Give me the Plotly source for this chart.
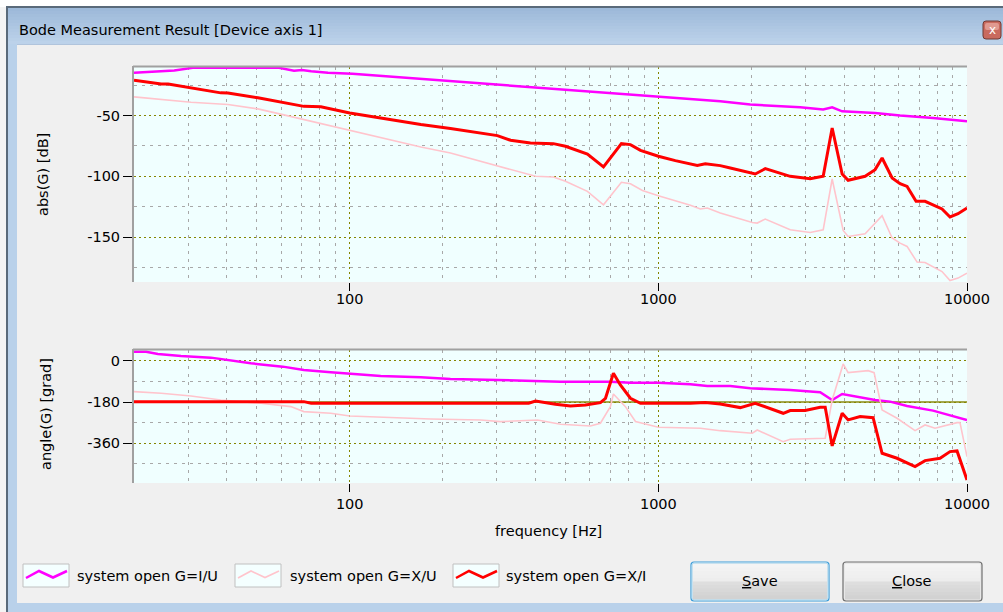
import plotly.graph_objects as go

W, H = 1003, 612

# ---------------- data ----------------
# Magnitude [dB]
IU_MAG_F = [20, 27, 31, 45, 59, 66, 70, 75, 85, 102, 183, 358, 753, 1000, 1587, 1985, 2880, 3420, 3657, 3940, 5037, 6070, 7762, 10000]
IU_MAG_DB = [-14.8, -12.9, -10.7, -10.6, -10.7, -13.0, -12.5, -13.5, -14.8, -15.6, -20.3, -25.9, -32.1, -34.0, -38.2, -40.9, -43.2, -45.0, -43.2, -46.5, -47.8, -50.0, -51.9, -54.7]

XU_MAG_F = [20, 24.5, 30.6, 40.3, 50.4, 60.7, 71, 91.5, 100, 126, 170, 212, 301, 400, 457, 500, 589, 664, 759, 812, 888, 1000, 1270, 1368, 1441, 1587, 2015, 2091, 2220, 2674, 3104, 3420, 3657, 3970, 4120, 4676, 5308, 5720, 6070, 6395, 6890, 7313, 8300, 8810, 9353, 10000]
XU_MAG_DB = [-34.6, -36.8, -39.0, -40.9, -44.5, -49.2, -53.3, -59.6, -62.4, -68.4, -75.8, -80.8, -91.2, -100.0, -100.5, -104.1, -112.4, -123.4, -104.9, -106.1, -111.6, -116.0, -123.9, -126.9, -126.1, -130.2, -138.0, -138.5, -135.2, -144.0, -146.2, -144.0, -102.2, -144.6, -149.5, -147.3, -132.4, -150.8, -155.0, -157.7, -170.6, -170.9, -178.4, -185.8, -183.8, -179.7]

XI_MAG_F = [20, 24.5, 25.8, 30.6, 38.2, 40.3, 50.4, 71, 80.6, 100, 170, 212, 246, 301, 332, 385, 457, 500, 589, 664, 759, 812, 875, 1000, 1135, 1337, 1419, 1587, 1710, 2060, 2220, 2674, 3104, 3420, 3657, 3940, 4120, 4676, 5037, 5308, 5720, 6070, 6395, 6839, 7313, 8300, 8810, 9353, 10000]
XI_MAG_DB = [-20.9, -23.9, -24.0, -27.2, -31.3, -31.5, -35.4, -42.4, -42.8, -47.8, -57.4, -60.7, -62.9, -66.5, -70.3, -72.5, -73.1, -75.3, -81.6, -92.3, -73.1, -73.9, -78.6, -83.5, -87.1, -91.0, -89.6, -91.2, -93.1, -98.1, -93.7, -100.0, -101.9, -100.0, -60.2, -98.1, -103.3, -100.0, -94.5, -84.9, -101.4, -106.1, -108.3, -120.6, -120.6, -126.9, -133.5, -130.8, -126.1]

# Phase [grad]
IU_PH_F = [20, 21.9, 23.9, 28.4, 35.5, 41.2, 47.8, 60.7, 71, 86.8, 100, 126, 170, 212, 301, 482, 699, 812, 1000, 1270, 1441, 1710, 1985, 2674, 3344, 3657, 3940, 5037, 5636, 6395, 7762, 8810, 10000]
IU_PH_DEG = [40.7, 40.7, 30.6, 21.9, 14.6, 1.5, -10.2, -24.8, -39.4, -49.6, -56.9, -65.6, -71.4, -78.7, -83.1, -90.4, -90.4, -94.8, -94.8, -102.0, -109.4, -110.0, -119.6, -126.9, -137.0, -170.6, -144.4, -170.6, -177.9, -196.9, -217.3, -236.2, -258.0]

XU_PH_F = [20, 24.5, 30.6, 38.2, 51.5, 64.4, 71, 86.8, 100, 117, 146, 183, 265.5, 308, 406, 482, 602, 649, 699, 715, 782, 843, 1000, 1368, 1587, 2015, 2091, 2538, 2674, 3344, 3472, 3657, 3970, 4120, 4782, 5000, 5308, 5935, 6787, 7313, 7877, 9283, 9490, 10000]
XU_PH_DEG = [-134, -141, -153, -170.6, -185, -199.7, -221.6, -228.9, -240.6, -243.5, -250.8, -253.7, -258, -265.4, -258, -277, -284.3, -272.5, -199.7, -144.4, -200, -265, -290, -294.5, -305, -316, -302, -353, -342.5, -338, -338, -170.6, -13, -51, -42.4, -51, -214, -250.8, -305, -280, -294.5, -270, -270, -418.6]

XI_PH_F = [20, 71, 75, 380, 400, 464, 519, 580, 649, 674, 715, 753, 812, 875, 1270, 1419, 1587, 1710, 1842, 2060, 2538, 2674, 2990, 3344, 3472, 3657, 3940, 4120, 4505, 4963, 5308, 5935, 6787, 7313, 8177, 8810, 9283, 10000]
XI_PH_DEG = [-178, -178, -185, -185, -175, -189.5, -196.9, -192.5, -182.4, -163.3, -53.9, -105, -163, -185, -185, -182, -188, -195.5, -204, -185, -228.9, -217, -217, -202.7, -202.7, -371.8, -228.9, -258, -243.5, -248, -404, -425.8, -462, -436, -425.8, -396.7, -393.7, -520.6]

SERIES_NAMES = ["system open G=I/U", "system open G=X/U", "system open G=X/I"]
SERIES_COLORS = ["#FF00FF", "#FFC4CC", "#FF0000"]
SERIES_WIDTHS = [2.5, 1.6, 3.0]

X_TICKS = [100, 1000, 10000]
X_MINOR = [30, 40, 50, 60, 70, 80, 90, 200, 300, 400, 500, 600, 700, 800, 900,
           2000, 3000, 4000, 5000, 6000, 7000, 8000, 9000]
MAG_TICKS = [-50, -100, -150]
MAG_MINOR = [-25, -75, -125, -175]
PH_TICKS = [0, -180, -360]
PH_MINOR = [-90, -270, -450]

FONT = "DejaVu Sans"
FS = 14.5
OLIVE = "#858500"
GRAYGRID = "#A8A8A8"


def px(x):
    return x / W


def py(y):
    return 1 - y / H


fig = go.Figure()

mag_data = [(IU_MAG_F, IU_MAG_DB), (XU_MAG_F, XU_MAG_DB), (XI_MAG_F, XI_MAG_DB)]
ph_data = [(IU_PH_F, IU_PH_DEG), (XU_PH_F, XU_PH_DEG), (XI_PH_F, XI_PH_DEG)]

for i, (f, v) in enumerate(mag_data):
    fig.add_trace(go.Scatter(x=f, y=v, mode="lines", name=SERIES_NAMES[i],
                             line=dict(color=SERIES_COLORS[i], width=SERIES_WIDTHS[i]),
                             xaxis="x", yaxis="y", showlegend=False, hoverinfo="skip"))
for i, (f, v) in enumerate(ph_data):
    fig.add_trace(go.Scatter(x=f, y=v, mode="lines", name=SERIES_NAMES[i],
                             line=dict(color=SERIES_COLORS[i], width=SERIES_WIDTHS[i]),
                             xaxis="x2", yaxis="y2", showlegend=False, hoverinfo="skip"))

xdom = [px(134), px(967)]
common_x = dict(type="log", range=[1.301, 4.0], domain=xdom, automargin=False,
                tickvals=X_TICKS, ticktext=[str(t) for t in X_TICKS],
                ticks="outside", ticklen=8, tickcolor="#000", tickwidth=1,
                showgrid=True, gridcolor=OLIVE, griddash="2px,3px", gridwidth=1.2,
                minor=dict(tickvals=X_MINOR, showgrid=True, gridcolor=GRAYGRID,
                           griddash="3px,5px", gridwidth=1, ticks=""),
                showline=False, zeroline=False,
                tickfont=dict(family=FONT, size=FS, color="#000"), fixedrange=True)
common_y = dict(ticks="outside", ticklen=10, tickcolor="#000", tickwidth=1, automargin=False,
                showgrid=True, gridcolor=OLIVE, griddash="2px,3px", gridwidth=1.2,
                showline=False, zeroline=False,
                tickfont=dict(family=FONT, size=FS, color="#000"), fixedrange=True)

fig.update_layout(
    width=W, height=H, margin=dict(l=0, r=0, t=0, b=0, autoexpand=False), autosize=False,
    paper_bgcolor="#F0F0F0", plot_bgcolor="#F0FFFF",
    font=dict(family=FONT, size=FS, color="#000"),
    xaxis=dict(**common_x, anchor="y", ticklabelstandoff=-4),
    yaxis=dict(**common_y, anchor="x", domain=[py(282), py(67)], range=[-187, -10],
               tickvals=MAG_TICKS, ticktext=[str(t) for t in MAG_TICKS],
               minor=dict(tickvals=MAG_MINOR, showgrid=True, gridcolor=GRAYGRID,
                          griddash="3px,5px", gridwidth=1, ticks="")),
    xaxis2=dict(**common_x, anchor="y2"),
    yaxis2=dict(**common_y, anchor="x2", domain=[py(483), py(350)], range=[-534, 48],
                tickvals=PH_TICKS, ticktext=[str(t) for t in PH_TICKS],
                minor=dict(tickvals=PH_MINOR, showgrid=True, gridcolor=GRAYGRID,
                           griddash="3px,5px", gridwidth=1, ticks="")),
    showlegend=False,
)

shapes = []

# solid reference line at -180 in phase plot
shapes.append(dict(type="line", xref="x2 domain", yref="y2", x0=0, x1=1, y0=-180, y1=-180,
                   line=dict(color="#8A8A10", width=1.5), layer="below"))

# sunken frame (top and left) of both plots
for top, bot in [(67, 282), (350, 483)]:
    shapes.append(dict(type="line", xref="paper", yref="paper", x0=px(133), x1=px(967),
                       y0=py(top - 0.5), y1=py(top - 0.5), line=dict(color="#A0A0A0", width=2), layer="above"))
    shapes.append(dict(type="line", xref="paper", yref="paper", x0=px(133), x1=px(133),
                       y0=py(top - 1), y1=py(bot), line=dict(color="#A0A0A0", width=2), layer="above"))


def rect(x0, y0, x1, y1, fill, line=None, lw=0, layer="below"):
    d = dict(type="rect", xref="paper", yref="paper", x0=px(x0), x1=px(x1), y0=py(y1), y1=py(y0),
             fillcolor=fill, layer=layer, line=dict(width=lw, color=line or fill))
    shapes.append(d)


def rrect(x0, y0, x1, y1, r, fill, line, lw=1, layer="below"):
    pts = (f"M {px(x0 + r)},{py(y0)} L {px(x1 - r)},{py(y0)} Q {px(x1)},{py(y0)} {px(x1)},{py(y0 + r)} "
           f"L {px(x1)},{py(y1 - r)} Q {px(x1)},{py(y1)} {px(x1 - r)},{py(y1)} "
           f"L {px(x0 + r)},{py(y1)} Q {px(x0)},{py(y1)} {px(x0)},{py(y1 - r)} "
           f"L {px(x0)},{py(y0 + r)} Q {px(x0)},{py(y0)} {px(x0 + r)},{py(y0)} Z")
    shapes.append(dict(type="path", xref="paper", yref="paper", path=pts, fillcolor=fill,
                       line=dict(color=line, width=lw), layer=layer))


def hexmix(c1, c2, t):
    a = [int(c1[i:i + 2], 16) for i in (1, 3, 5)]
    b = [int(c2[i:i + 2], 16) for i in (1, 3, 5)]
    return "#" + "".join(f"{round(a[k] + (b[k] - a[k]) * t):02X}" for k in range(3))


# window chrome
rect(0, 0, W, 7, "#FFFFFF")
rect(0, 7, 7, H, "#F4F4F4")
rect(6, 7, 8, H, "#5A6A7A")
rect(6, 6, W, 8, "#5A6A7A")
n = 12
for k in range(n):
    y0 = 8 + (44 - 8) * k / n
    y1 = 8 + (44 - 8) * (k + 1) / n + 0.5
    rect(8, y0, W, y1, hexmix("#9DB9D9", "#BCD2EA", k / (n - 1)))
rect(8, 44, 17, 603, "#B9D1EA")
rect(8, 603, W, H, "#B9D1EA")
rect(17, 44, W, 45, "#B0C4DC")

# close button
rrect(983, 21, 1001, 39, 3, "#C96A5E", "#6E3A34", 1)
rrect(985, 23, 999, 30, 2, "#E09A90", "#E09A90", 0)

# legend icons
ICON_X = [23, 235, 453]
for i, x0 in enumerate(ICON_X):
    rect(x0, 564, x0 + 46, 587, "#F4FFFF", "#C0C0C0", 1)
    zx = [x0 + 3, x0 + 16, x0 + 30, x0 + 44]
    zy = [578, 571, 577.5, 571]
    path = "M " + " L ".join(f"{px(a)},{py(b)}" for a, b in zip(zx, zy))
    shapes.append(dict(type="path", xref="paper", yref="paper", path=path,
                       line=dict(color=SERIES_COLORS[i], width=min(SERIES_WIDTHS[i], 2.5)), layer="above"))

# buttons
for (bx0, bx1, border) in [(691, 829, "#3C9CD8"), (843, 982, "#707070")]:
    rrect(bx0, 562, bx1, 601, 3, "#E8E8E8", border, 1.2)
    m = 10
    for k in range(m):
        ya = 564 + (599 - 564) * k / m
        yb = 564 + (599 - 564) * (k + 1) / m + 0.5
        if k < m / 2:
            c = hexmix("#F4F4F4", "#EBEBEB", k / (m / 2))
        else:
            c = hexmix("#DEDEDE", "#CFCFCF", (k - m / 2) / (m / 2))
        rect(bx0 + 2, ya, bx1 - 2, yb, c)
    if border.startswith("#3C"):
        rrect(bx0 + 1, 563, bx1 - 1, 600, 2, "rgba(0,0,0,0)", "#A8DAF4", 1)

fig.update_layout(shapes=shapes)

ann = []


def text(x, y, s, xa="left", ya="middle", angle=0, size=FS, color="#000"):
    ann.append(dict(x=px(x), y=py(y), xref="paper", yref="paper", text=s, showarrow=False,
                    xanchor=xa, yanchor=ya, textangle=angle,
                    font=dict(family=FONT, size=size, color=color)))


text(17, 30, "Bode Measurement Result [Device axis 1]")
text(992, 30, "x", xa="center", size=12, color="#FFFFFF")
text(43, 175, "abs(G) [dB]", xa="center", angle=-90)
text(46, 414, "angle(G) [grad]", xa="center", angle=-90)
text(548, 531, "frequency [Hz]", xa="center")
TEXT_X = [75, 288, 504]
for i, tx in enumerate(TEXT_X):
    text(tx, 576, SERIES_NAMES[i])
text(760, 581, "<u>S</u>ave", xa="center")
text(912, 581, "<u>C</u>lose", xa="center")

fig.update_layout(annotations=ann)

fig.write_html(
    "out.html",
    config={"displayModeBar": False, "responsive": False},
    post_script="document.body.style.margin='0';document.body.style.padding='0';"
                "document.body.style.overflow='hidden';",
)
